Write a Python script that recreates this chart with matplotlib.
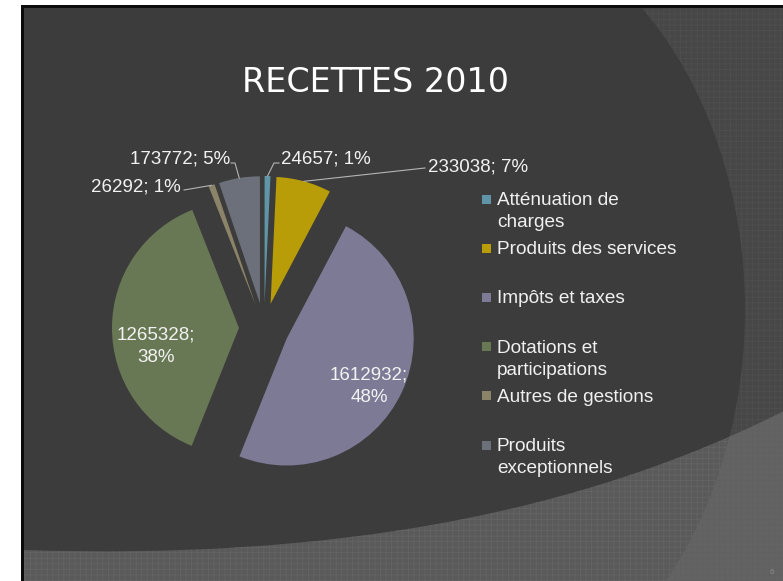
import matplotlib.pyplot as plt
import numpy as np
from matplotlib.patches import Rectangle, Polygon, PathPatch
from matplotlib.path import Path

plt.rcParams["hatch.linewidth"] = 0.5

# --- data ---
CATEGORIES = ["Atténuation de\ncharges", "Produits des services", "Impôts et taxes",
              "Dotations et\nparticipations", "Autres de gestions", "Produits\nexceptionnels"]
VALUES = [24657, 233038, 1612932, 1265328, 26292, 173772]
COLORS = ["#5f95a6", "#b89c08", "#7d7a96", "#687854", "#8c8468", "#6c707a"]
TITLE = "RECETTES 2010"

W, H = 783, 581
CX, CY, R = 264, 328, 127      # pie centre / radius in pixels
LABEL_FONT = ["Liberation Sans", "DejaVu Sans"]

fig = plt.figure(figsize=(W / 100, H / 100), dpi=100, facecolor="white")

# --- slide background (pixel coordinates, y down) ---
bg = fig.add_axes([0, 0, 1, 1])
bg.set_xlim(0, W)
bg.set_ylim(H, 0)
bg.axis("off")

bg.add_patch(Rectangle((21, 5), W, H, facecolor="#0c0c0c", edgecolor="none"))
bg.add_patch(Rectangle((24, 8), W, H, facecolor="#3c3c3c", edgecolor="none"))

# bottom swoosh band
verts = [(24, 550), (330, 560), (580, 515), (790, 408), (790, 590), (24, 590), (24, 550)]
codes = [Path.MOVETO, Path.CURVE4, Path.CURVE4, Path.CURVE4, Path.LINETO, Path.LINETO, Path.CLOSEPOLY]
bg.add_patch(PathPatch(Path(verts, codes), facecolor="#5a5a5a", edgecolor="#656565",
                       linewidth=0, hatch="+++"))

# right swoosh: outside of a big ellipse
t = np.linspace(-np.pi / 2, np.pi / 2, 200)
ex = 440 + 305 * np.cos(t)
ey = 310 + 403 * np.sin(t)
right = np.column_stack([ex, ey])
right = right[(right[:, 1] >= 8) & (right[:, 1] <= H)]
poly = np.vstack([right, [[W + 5, H + 5], [W + 5, 8]]])
bg.add_patch(Polygon(poly, closed=True, facecolor="white", alpha=0.06, edgecolor="none"))
bg.add_patch(Polygon(poly, closed=True, facecolor="none", edgecolor="#555555",
                     linewidth=0, hatch="+++", alpha=0.6))

bg.text(772, 573, "6", color="#8a8a8a", fontsize=6, ha="center", va="center",
        family=LABEL_FONT)

bg.text(375, 92, TITLE, color="white", fontsize=24, ha="center", va="baseline",
        family=["DejaVu Sans"])

# --- pie ---
L = 2.0
ax = fig.add_axes([(CX - L * R) / W, (H - CY - L * R) / H, 2 * L * R / W, 2 * L * R / H])
wedges, _ = ax.pie(VALUES, colors=COLORS, startangle=90, counterclock=False,
                   explode=[0.197] * len(VALUES), radius=1, wedgeprops=dict(linewidth=0))
ax.set_xlim(-L, L)
ax.set_ylim(-L, L)
ax.axis("off")


def to_data(x, y):
    return (x - CX) / R, (CY - y) / R


total = sum(VALUES)
labels = [f"{v}; {v / total:.0%}" for v in VALUES]

# outside labels: (index, text pos px, ha, elbow points px)
outside = [
    (0, (281, 163), "left", [(274, 163), (279, 163)]),
    (1, (428, 171), "left", [(425, 168)]),
    (4, (181, 191), "right", [(184, 190)]),
    (5, (230, 163), "right", [(235, 163), (231, 163)]),
]
for i, (tx, ty), ha, elbows in outside:
    w = wedges[i]
    mid = np.radians((w.theta1 + w.theta2) / 2)
    sx = w.center[0] + w.r * np.cos(mid)
    sy = w.center[1] + w.r * np.sin(mid)
    pts = [(sx, sy)] + [to_data(*p) for p in elbows]
    ax.plot([p[0] for p in pts], [p[1] for p in pts], color="#b5b5b5", linewidth=0.8)
    x, y = to_data(tx, ty)
    ax.text(x, y, labels[i], color="#f2f2f2", fontsize=13.5, ha=ha, va="baseline",
            family=LABEL_FONT)

# inside labels, one text per line
inside = [(2, 369, 380), (3, 156, 340)]
for i, tx, ty in inside:
    val, pct = labels[i].split(" ")
    for j, line in enumerate([val, pct]):
        x, y = to_data(tx, ty + j * 22)
        ax.text(x, y, line, color="#f2f2f2", fontsize=13.5, ha="center", va="baseline",
                family=LABEL_FONT)

# --- legend drawn by hand on the background axes ---
for k, (cat, col) in enumerate(zip(CATEGORIES, COLORS)):
    base = 205 + k * 49.2
    bg.add_patch(Rectangle((482, base - 10.5), 9, 9, facecolor=col, edgecolor="none"))
    for j, line in enumerate(cat.split("\n")):
        bg.text(497, base + j * 22, line, color="#f0f0f0", fontsize=13.7, ha="left",
                va="baseline", family=LABEL_FONT)

fig.savefig("out.png", dpi=100, facecolor="white")
